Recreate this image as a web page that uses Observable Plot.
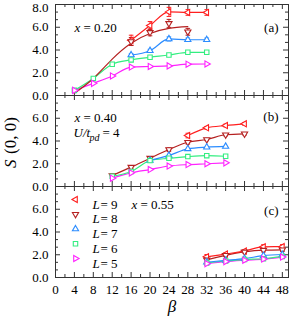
<!DOCTYPE html>
<html><head><meta charset="utf-8">
<script src="https://cdn.jsdelivr.net/npm/d3@7"></script>
<script src="https://cdn.jsdelivr.net/npm/@observablehq/plot@0.6"></script>
<style>
body{margin:0;background:#fff;}
#chart{position:relative;width:293px;height:322px;}
#chart svg{position:absolute;left:0;top:0;}
#chart svg, #chart svg text{font-family:"Liberation Serif","Times New Roman",serif !important;}
</style></head><body><div id="chart"></div>
<script>
// ---- series definitions ----
const seriesL = [9, 8, 7, 6, 5];
const seriesColors = ["#ff1f1f", "#b52020", "#2b8cff", "#33ee80", "#ff22ff"];
const seriesSymbols = ["triangle", "triangle", "triangle", "square", "triangle"];
const seriesRotate = [-90, 180, 0, 0, 90];

// ---- panel (a): x = 0.20 ----
const aBetaL9 = [16, 20, 24, 28, 32];
const aSL9 = [4.85, 6.15, 7.35, 7.3, 7.3];
const aErrL9 = [0.45, 0.35, 0.4, 0.25, 0.25];
const aBetaL8 = [16, 20, 24, 28];
const aSL8 = [4.75, 5.55, 6.34, 5.6];
const aErrL8 = [0.35, 0.3, 0.35, 0.3];
const aFitBetaL8 = [4, 8, 12, 16, 20, 24, 28];
const aFitSL8 = [0.2, 1.5, 3.2, 4.6, 5.45, 5.9, 6.05];
const aBetaL7 = [16, 20, 24, 28, 32];
const aSL7 = [3.56, 3.94, 4.97, 4.9, 4.9];
const aErrL7 = [0.12, 0.12, 0.18, 0.15, 0.15];
const aBetaL6 = [4, 8, 12, 16, 20, 24, 28, 32];
const aSL6 = [0.45, 1.5, 2.75, 3.13, 3.36, 3.56, 3.8, 3.8];
const aBetaL5 = [4, 8, 12, 16, 20, 24, 28, 32];
const aSL5 = [0.45, 1.07, 1.72, 2.5, 2.55, 2.6, 2.75, 2.77];

// ---- panel (b): x = 0.40 ----
const bBetaL9 = [28, 32, 36, 40];
const bSL9 = [4.48, 5.16, 5.36, 5.51];
const bErrL9 = [0.2, 0.12, 0.12, 0.12];
const bBetaL8 = [12, 16, 20, 24, 28, 32, 36, 40];
const bSL8 = [0.97, 1.7, 2.49, 3.25, 3.89, 4.13, 4.55, 4.63];
const bErrL8 = [0.1, 0.1, 0.1, 0.15, 0.15, 0.1, 0.1, 0.1];
const bBetaL7 = [20, 24, 28, 32, 36];
const bSL7 = [2.3, 2.73, 3.31, 3.46, 3.52];
const bBetaL6 = [12, 16, 20, 24, 28, 32, 36];
const bSL6 = [0.9, 1.32, 2.28, 2.48, 2.63, 2.71, 2.66];
const bBetaL5 = [12, 16, 20, 24, 28, 32, 36];
const bSL5 = [0.73, 1.2, 1.49, 1.8, 1.93, 2.0, 2.08];

// ---- panel (c): x = 0.55 ----
const cBeta = [32, 36, 40, 44, 48];
const cSL9 = [1.82, 2.06, 2.33, 2.7, 2.71];
const cErrL9 = [0.2, 0.1, 0.1, 0.18, 0.18];
const cSL8 = [1.55, 1.95, 2.25, 2.4, 2.43];
const cErrL8 = [0.12, 0.1, 0.1, 0.15, 0.15];
const cSL7 = [1.35, 1.5, 1.66, 1.92, 2.02];
const cSL6 = [1.28, 1.45, 1.58, 1.65, 1.85];
const cSL5 = [1.22, 1.4, 1.52, 1.62, 1.8];

// ---- axis ticks ----
const xTickLabels = d3.range(0, 49, 4);
const yTickLabelsLower = [0, 2, 4, 6];
const yTickLabelTopOnly = [8];

// ---- helpers ----
function rows(betas, vals, errs, k) {
  return betas.map((b, i) => ({beta: b, s: vals[i], err: errs ? errs[i] : 0, k}));
}
const W = 293, H = 322, ML = 55, MR = 5;
const innerW = W - ML - MR;
const font = "Liberation Serif";
const capSymbol = {draw(ctx, size) { const w = Math.sqrt(size) / 2; ctx.moveTo(-w, 0); ctx.lineTo(w, 0); }};
const frameColor = "#333";
const triR = 2.3, sqR = 2.5;

function tickMarks(innerH) {
  const xs = d3.range(0, 49, 2);
  const xMaj = xs.filter(d => d % 4 === 0), xMin = xs.filter(d => d % 4 !== 0);
  const ys = d3.range(0, 13).map(i => i * 2 / 3);
  const yMaj = ys.filter((d, i) => i % 3 === 0), yMin = ys.filter((d, i) => i % 3 !== 0);
  const st = {stroke: frameColor, strokeWidth: 1};
  return [
    Plot.tickX(xMaj, {x: d => d, insetTop: innerH - 5, ...st}),
    Plot.tickX(xMin, {x: d => d, insetTop: innerH - 3, ...st}),
    Plot.tickX(xMaj, {x: d => d, insetBottom: innerH - 5, ...st}),
    Plot.tickX(xMin, {x: d => d, insetBottom: innerH - 3, ...st}),
    Plot.tickY(yMaj, {y: d => d, insetRight: innerW - 5, ...st}),
    Plot.tickY(yMin, {y: d => d, insetRight: innerW - 3, ...st}),
    Plot.tickY(yMaj, {y: d => d, insetLeft: innerW - 5, ...st}),
    Plot.tickY(yMin, {y: d => d, insetLeft: innerW - 3, ...st})
  ];
}

function seriesMarks(data, lineData) {
  const marks = [];
  for (const L of lineData) {
    marks.push(Plot.line(L.rows, {x: "beta", y: "s", stroke: seriesColors[L.k], strokeWidth: 1.2, curve: L.curve || "monotone-x"}));
  }
  for (const D of data) {
    const e = D.rows.filter(d => d.err > 0);
    if (e.length) {
      marks.push(Plot.ruleX(e, {x: "beta", y1: d => d.s - d.err, y2: d => d.s + d.err, stroke: seriesColors[D.k], strokeWidth: 1}));
      marks.push(Plot.dot(e, {x: "beta", y: d => d.s + d.err, symbol: capSymbol, r: 2.6, fill: "none", stroke: seriesColors[D.k], strokeWidth: 1}));
      marks.push(Plot.dot(e, {x: "beta", y: d => d.s - d.err, symbol: capSymbol, r: 2.6, fill: "none", stroke: seriesColors[D.k], strokeWidth: 1}));
    }
  }
  for (const D of data) {
    marks.push(Plot.dot(D.rows, {x: "beta", y: "s", symbol: seriesSymbols[D.k], rotate: seriesRotate[D.k],
      r: seriesSymbols[D.k] === "square" ? sqR : triR, fill: "white", stroke: seriesColors[D.k], strokeWidth: 1.1}));
  }
  return marks;
}

function txt(s, anchor, dx, dy, opts = {}) {
  return Plot.text([s], {text: d => d, frameAnchor: anchor, dx, dy, textAnchor: "start", fontSize: 13, fontFamily: font, fill: "black", ...opts});
}

function panel(top, bottom, extraTop, marks, xAxis) {
  const innerH = bottom - top;
  const all = [
    ...tickMarks(innerH),
    Plot.frame({stroke: frameColor, strokeWidth: 1}),
    Plot.axisY(yTickLabelsLower, {tickSize: 0, tickPadding: 7, tickFormat: d => d.toFixed(1), fontSize: 13, fontFamily: font, label: null})
  ];
  if (extraTop) all.push(Plot.axisY(yTickLabelTopOnly, {tickSize: 0, tickPadding: 7, dy: 3, tickFormat: d => d.toFixed(1), fontSize: 13, fontFamily: font, label: null}));
  all.push(...marks);
  if (xAxis) all.push(Plot.axisX(xTickLabels, {tickSize: 0, tickPadding: 7, fontSize: 13, fontFamily: font, label: null}));
  return Plot.plot({
    width: W, height: H, marginLeft: ML, marginRight: MR, marginTop: top, marginBottom: H - bottom,
    x: {domain: [0, 49.3], axis: xAxis ? undefined : null},
    y: {domain: [0, 8]},
    style: {background: "transparent", fontFamily: font, fontSize: "13px", overflow: "visible"},
    marks: all
  });
}

// ---- panel (a) ----
const aData = [
  {k: 0, rows: rows(aBetaL9, aSL9, aErrL9, 0)},
  {k: 1, rows: rows(aBetaL8, aSL8, aErrL8, 1)},
  {k: 2, rows: rows(aBetaL7, aSL7, aErrL7, 2)},
  {k: 3, rows: rows(aBetaL6, aSL6, null, 3)},
  {k: 4, rows: rows(aBetaL5, aSL5, null, 4)}
];
const aLines = [
  {k: 4, rows: aData[4].rows}, {k: 3, rows: aData[3].rows}, {k: 2, rows: aData[2].rows},
  {k: 1, rows: rows(aFitBetaL8, aFitSL8, null, 1), curve: "natural"},
  {k: 0, rows: aData[0].rows}
];
const pa = panel(4, 95, true, [
  ...seriesMarks(aData, aLines),
  txt("x", "top-left", 19, 18, {fontStyle: "italic"}),
  txt("= 0.20", "top-left", 28, 18),
  txt("(a)", "top-right", -10, 18, {textAnchor: "end"})
], false);

// ---- panel (b) ----
const bData = [
  {k: 0, rows: rows(bBetaL9, bSL9, bErrL9, 0)},
  {k: 1, rows: rows(bBetaL8, bSL8, bErrL8, 1)},
  {k: 2, rows: rows(bBetaL7, bSL7, null, 2)},
  {k: 3, rows: rows(bBetaL6, bSL6, null, 3)},
  {k: 4, rows: rows(bBetaL5, bSL5, null, 4)}
];
const bLines = [4, 3, 2, 1, 0].map(k => ({k, rows: bData[k].rows}));
const pb = panel(95, 186, false, [
  ...seriesMarks(bData, bLines),
  txt("x", "top-left", 19, 17.5, {fontStyle: "italic"}),
  txt("= 0.40", "top-left", 28, 17.5),
  txt("U/t", "top-left", 18, 32, {fontStyle: "italic"}),
  txt("pd", "top-left", 34, 38, {fontStyle: "italic", fontSize: 10}),
  txt("= 4", "top-left", 47, 32),
  txt("(b)", "top-right", -10, 16, {textAnchor: "end"}),
  Plot.text(["S"], {text: d => d, frameAnchor: "left", dx: -45, dy: 27, rotate: -90, textAnchor: "start", fontSize: 17, fontFamily: font, fontStyle: "italic"}),
  Plot.text(["(0, 0)"], {text: d => d, frameAnchor: "left", dx: -45, dy: 13, rotate: -90, textAnchor: "start", fontSize: 17, fontFamily: font})
], false);

// ---- panel (c) ----
const cData = [
  {k: 0, rows: rows(cBeta, cSL9, cErrL9, 0)},
  {k: 1, rows: rows(cBeta, cSL8, cErrL8, 1)},
  {k: 2, rows: rows(cBeta, cSL7, null, 2)},
  {k: 3, rows: rows(cBeta, cSL6, null, 3)},
  {k: 4, rows: rows(cBeta, cSL5, null, 4)}
];
const cLines = [4, 3, 2, 1, 0].map(k => ({k, rows: cData[k].rows}));
const legendMarks = [];
seriesL.forEach((L, i) => {
  const dy = 13 + i * 14.75;
  legendMarks.push(Plot.dot([L], {frameAnchor: "top-left", dx: 20, dy, symbol: seriesSymbols[i], rotate: seriesRotate[i],
    r: seriesSymbols[i] === "square" ? sqR : triR, fill: "white", stroke: seriesColors[i], strokeWidth: 1.1}));
  legendMarks.push(txt("L", "top-left", 37, dy, {fontStyle: "italic"}));
  legendMarks.push(txt("= " + L, "top-left", 45, dy));
});
const pc = panel(186, 277, false, [
  ...seriesMarks(cData, cLines),
  ...legendMarks,
  txt("x", "top-left", 76, 13, {fontStyle: "italic"}),
  txt("= 0.55", "top-left", 85, 13),
  txt("(c)", "top-right", -10, 19, {textAnchor: "end"}),
  Plot.text(["β"], {text: d => d, frameAnchor: "bottom", dy: 34, fontSize: 17, fontFamily: font, fontStyle: "italic"})
], true);

const chart = document.getElementById("chart");
chart.append(pa, pb, pc);
</script></body></html>
